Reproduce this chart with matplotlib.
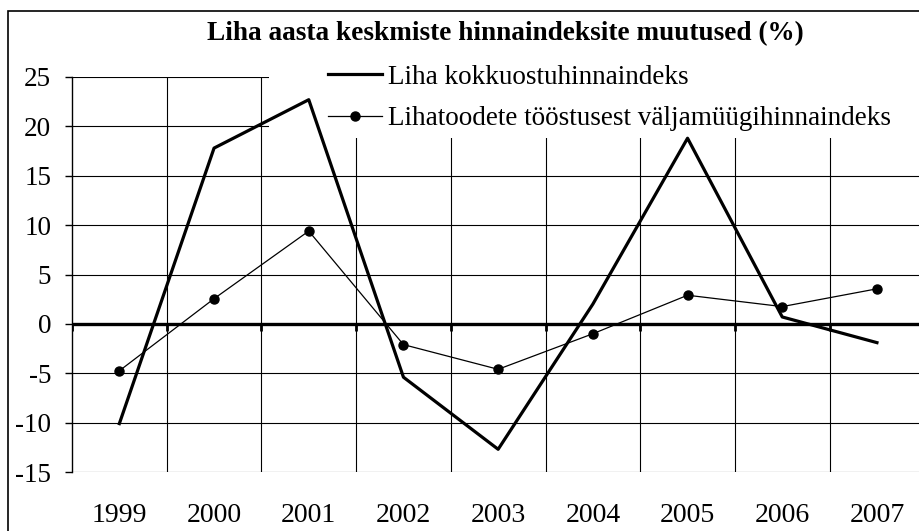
import numpy as np
import matplotlib.pyplot as plt
from matplotlib.patches import Rectangle

plt.rcParams['font.family'] = ['Liberation Serif', 'DejaVu Serif']
plt.rcParams['axes.unicode_minus'] = False

years = ['1999', '2000', '2001', '2002', '2003', '2004', '2005', '2006', '2007']
kokkuost = [-10.1, 17.8, 22.7, -5.4, -12.7, 2.0, 18.8, 0.7, -1.9]
valjamyyk = [-4.75, 2.55, 9.4, -2.1, -4.6, -1.0, 2.9, 1.75, 3.55]
yticks = [-15, -10, -5, 0, 5, 10, 15, 20, 25]

x = np.arange(len(years))
bounds = np.arange(len(years) + 1) - 0.5

fig = plt.figure(figsize=(9.19, 5.31), dpi=100)
ax = fig.add_axes([72 / 919, 1 - 472 / 531, 1 - 72 / 919, (472 - 77) / 531])
ax.set_xlim(-0.5, (919 - 72) / 94.7 - 0.5)
ax.set_ylim(-15, 25)

# grid
for v in yticks:
    if v != 0:
        ax.axhline(v, color='black', lw=0.8, zorder=1)
ax.vlines(bounds[1:], -15, 25, color='black', lw=0.8, zorder=1)

# white box behind the legend (hides the grid there)
ax.add_patch(Rectangle((286 / 919 - 72 / 919, 1 - (138 - 77) / 395), 1, 1,
                       transform=ax.transAxes, facecolor='white',
                       edgecolor='none', zorder=2, clip_on=False))

# zero axis with tick marks
ax.axhline(0, color='black', lw=2.4, zorder=3)
ax.vlines(bounds, -0.75, 0, color='black', lw=2, zorder=3)

ax.plot(x, kokkuost, color='black', lw=2.3, zorder=5,
        label='Liha kokkuostuhinnaindeks')
ax.plot(x, valjamyyk, color='black', lw=0.9, marker='o', markersize=6.5,
        zorder=6, label='Lihatoodete tööstusest väljamüügihinnaindeks')

for s in ['top', 'right', 'bottom']:
    ax.spines[s].set_visible(False)
ax.spines['left'].set_linewidth(1.0)
ax.set_yticks(yticks)
ax.tick_params(axis='y', direction='out', length=5, width=1, labelsize=19.5, pad=10)
ax.set_xticks(x, years)
ax.tick_params(axis='x', length=0, labelsize=20, pad=22)

leg = ax.legend(loc='upper left', bbox_to_anchor=(328 / 919, 1 - 64.5 / 531),
                bbox_transform=fig.transFigure, frameon=False, fontsize=19.5,
                handlelength=2.0, handletextpad=0.2, labelspacing=0.62,
                borderpad=0, borderaxespad=0)
leg.set_zorder(7)

fig.text(505 / 919, 1 - 33.5 / 531,
         'Liha aasta keskmiste hinnaindeksite muutused (%)',
         ha='center', va='center', fontsize=19.6, fontweight='bold')

fig.patches.append(Rectangle((8 / 919, -0.1), 1.1, 1.1 - 11 / 531,
                             transform=fig.transFigure, fill=False,
                             edgecolor='black', lw=1.2))

fig.savefig('out.png', dpi=100)
